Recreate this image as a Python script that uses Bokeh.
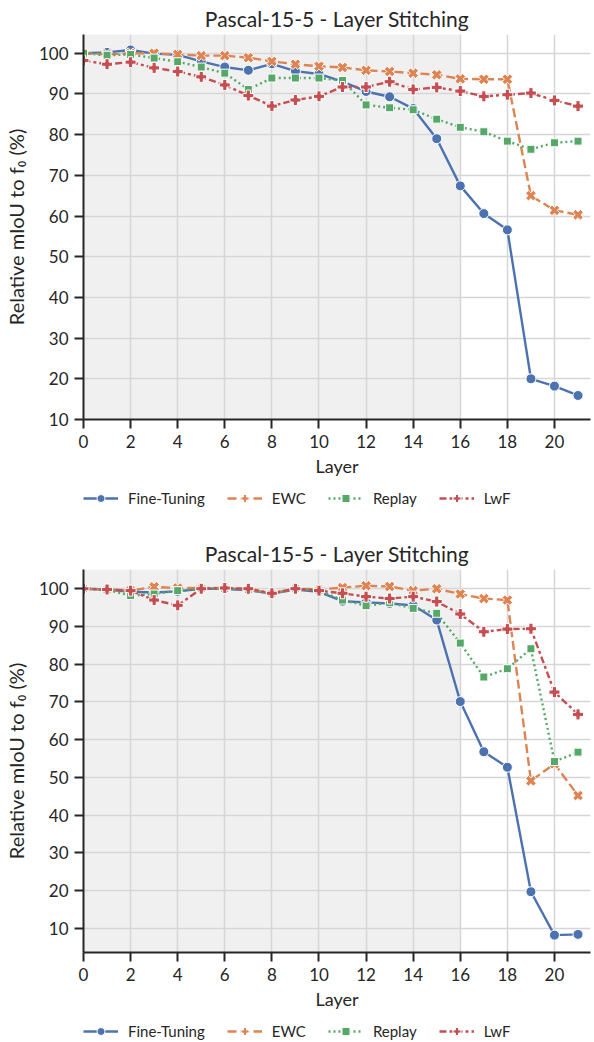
import numpy as np
from bokeh.plotting import figure
from bokeh.models import (ColumnDataSource, Legend, LegendItem, BoxAnnotation,
                          FixedTicker, Range1d)
from bokeh.layouts import column
from bokeh.embed import file_html
from bokeh.resources import INLINE

layers = list(range(22))
series_names = ["Fine-Tuning", "EWC", "Replay", "LwF"]
title_text = "Pascal-15-5 - Layer Stitching"
x_ticks = list(range(0, 21, 2))
y_ticks = list(range(10, 101, 10))

top_ft = [100.0, 100.2, 100.8, 99.9, 99.6, 98.0, 96.6, 95.8, 97.4, 95.6, 94.9,
          93.0, 90.6, 89.3, 86.4, 79.0, 67.4, 60.6, 56.6, 20.0, 18.2, 15.9]
top_ewc = [100.0, 99.7, 100.0, 100.0, 99.7, 99.4, 99.4, 98.9, 98.0, 97.3, 96.8,
           96.5, 95.8, 95.5, 95.1, 94.7, 93.7, 93.6, 93.6, 65.0, 61.4, 60.3]
top_replay = [100.0, 99.5, 99.7, 98.8, 97.9, 96.6, 95.1, 91.1, 93.9, 93.9, 93.9,
              93.3, 87.3, 86.6, 86.1, 83.8, 81.8, 80.7, 78.4, 76.4, 78.0, 78.4]
top_lwf = [98.2, 97.3, 97.8, 96.4, 95.5, 94.2, 92.2, 89.6, 87.0, 88.5, 89.4,
           91.7, 91.7, 93.0, 91.1, 91.6, 90.7, 89.4, 89.8, 90.2, 88.4, 87.0]

bot_ft = [100.0, 99.8, 99.2, 99.0, 99.3, 100.0, 100.0, 99.6, 98.7, 99.8, 99.2,
          96.7, 96.4, 96.1, 95.6, 91.7, 70.1, 56.8, 52.7, 19.7, 8.2, 8.4]
bot_ewc = [100.0, 99.8, 99.5, 100.5, 100.2, 100.2, 100.2, 99.8, 98.8, 100.0, 99.8,
           100.3, 100.8, 100.6, 99.5, 100.0, 98.6, 97.4, 97.0, 49.1, 53.6, 45.2]
bot_replay = [100.0, 99.7, 98.2, 98.6, 99.5, 100.0, 100.0, 99.8, 98.8, 100.0, 99.5,
              97.0, 95.5, 96.3, 94.8, 93.5, 85.6, 76.6, 78.8, 84.1, 54.2, 56.7]
bot_lwf = [100.0, 99.8, 99.5, 97.0, 95.6, 100.0, 100.2, 100.0, 98.8, 100.0, 99.5,
           98.8, 97.9, 97.4, 97.9, 96.6, 93.3, 88.6, 89.3, 89.4, 72.6, 66.7]

FONT = "Lato"
TXT = "#262626"
STYLES = [
    # color, dash, marker, angle, size
    ("#4c72b0", "solid", "circle", 0.0, 10),
    ("#dd8452", "9 4", "plus", np.pi / 4, 11),
    ("#55a868", "2 3", "square", 0.0, 8),
    ("#c44e52", "7 3 3 3", "plus", 0.0, 11),
]


def add_series(p, xs_list, ys_list):
    items = []
    for name, xs, ys, (color, dash, marker, angle, size) in zip(series_names, xs_list, ys_list, STYLES):
        src = ColumnDataSource(dict(x=xs, y=ys))
        lr = p.line("x", "y", source=src, line_color=color, line_width=2.4, line_dash=dash)
        sr = p.scatter("x", "y", source=src, marker=marker, angle=angle, size=size,
                       fill_color=color, line_color="white", line_width=1)
        items.append(LegendItem(label=name, renderers=[lr, sr]))
    return items


def make_fig(series, y_lo, y_hi, frame_h, b_top, b_bottom):
    p = figure(frame_width=507, frame_height=frame_h,
               min_border_left=83, min_border_right=4,
               min_border_top=b_top, min_border_bottom=b_bottom,
               x_range=Range1d(0, 21.53), y_range=Range1d(y_lo, y_hi),
               output_backend="svg", toolbar_location=None)
    p.outline_line_color = None
    p.background_fill_color = "white"
    p.add_layout(BoxAnnotation(left=0, right=16, fill_color="#f0f0f0", fill_alpha=1.0,
                               line_color=None, level="image"))

    p.title.text = title_text
    p.title.align = "center"
    p.title.text_font = FONT
    p.title.text_font_size = "21px"
    p.title.text_font_style = "normal"
    p.title.text_color = TXT
    p.title.standoff = 7

    for ax in (p.xaxis[0], p.yaxis[0]):
        ax.axis_line_color = TXT
        ax.axis_line_width = 2
        ax.major_tick_line_color = TXT
        ax.major_tick_line_width = 2
        ax.major_tick_out = 9
        ax.major_tick_in = 0
        ax.minor_tick_line_color = None
        ax.major_label_text_font = FONT
        ax.major_label_text_font_size = "17px"
        ax.major_label_text_color = TXT
        ax.axis_label_text_font = FONT
        ax.axis_label_text_font_style = "normal"
        ax.axis_label_text_color = TXT
        ax.major_label_standoff = 6
    p.xaxis[0].axis_label_text_font_size = "18px"
    p.yaxis[0].axis_label_text_font_size = "20px"
    p.xaxis[0].ticker = FixedTicker(ticks=x_ticks)
    p.yaxis[0].ticker = FixedTicker(ticks=y_ticks)
    p.xaxis[0].axis_label = "Layer"
    p.yaxis[0].axis_label = "Relative mIoU to f\u2080 (%)"
    p.xaxis[0].axis_label_standoff = 4
    p.yaxis[0].axis_label_standoff = 8

    p.xgrid.ticker = FixedTicker(ticks=x_ticks)
    p.ygrid.ticker = FixedTicker(ticks=y_ticks)
    for g in (p.xgrid[0], p.ygrid[0]):
        g.grid_line_color = "#d6d6d6"
        g.grid_line_width = 1.5

    add_series(p, [layers] * 4, series)
    return p


def make_legend_fig(height, y_loc):
    lf = figure(width=594, height=height, min_border=0, x_axis_type=None,
                y_axis_type=None, x_range=Range1d(0, 1), y_range=Range1d(0, 1),
                output_backend="svg", toolbar_location=None)
    lf.outline_line_color = None
    lf.grid.visible = False
    # proxy glyphs placed outside the visible range: they only feed the legend
    hidden = [[-10.0, -9.0] for _ in series_names]
    items = add_series(lf, hidden, hidden)
    leg = Legend(items=items, orientation="horizontal", location=(0, y_loc),
                 glyph_width=35, glyph_height=20, label_standoff=10, spacing=22,
                 padding=0, margin=0, border_line_color=None,
                 background_fill_alpha=0, label_text_font=FONT,
                 label_text_font_size="15px", label_text_color=TXT)
    lf.add_layout(leg, "center")
    return lf


p1 = make_fig([top_ft, top_ewc, top_replay, top_lwf], 10, 104.6, 385, 33, 64)
l1 = make_legend_fig(39, 14)
p2 = make_fig([bot_ft, bot_ewc, bot_replay, bot_lwf], 3.6, 105.1, 383, 47, 64)
l2 = make_legend_fig(27, 2)

layout = column(p1, l1, p2, l2, spacing=0)
open("out.html", "w").write(file_html(layout, INLINE))
